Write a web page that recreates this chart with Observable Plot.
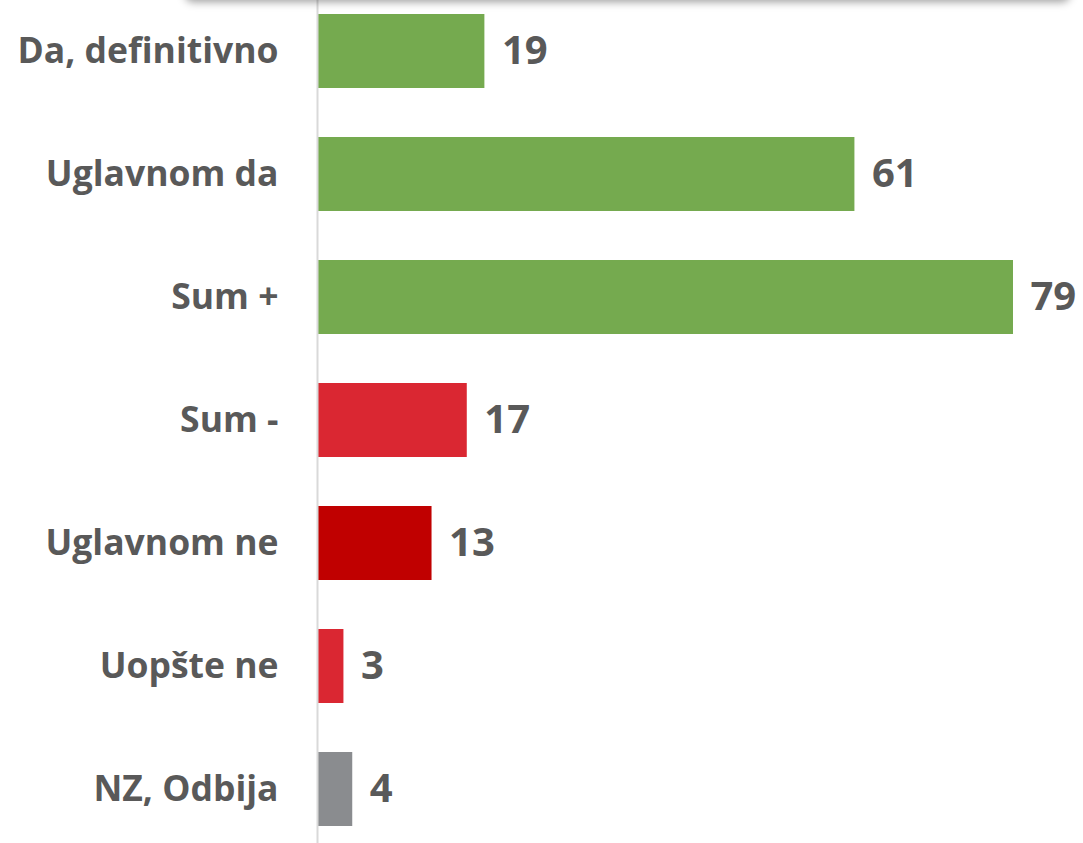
<!DOCTYPE html>
<html>
<head>
<meta charset="utf-8">
<script src="https://cdn.jsdelivr.net/npm/d3@7"></script>
<script src="https://cdn.jsdelivr.net/npm/@observablehq/plot@0.6"></script>
<style>
  html, body { margin: 0; padding: 0; background: #fff; overflow: hidden; }
  #wrap { position: relative; width: 1083px; height: 843px; }
  #shadow { position: absolute; top: -20px; left: 185px; width: 885px; height: 20px;
            background: #fff; border-radius: 8px; box-shadow: 0 2px 9px rgba(0,0,0,0.38); z-index: 2; }
  svg { font-family: "Open Sans", "Noto Sans", sans-serif; }
</style>
</head>
<body>
<div id="wrap"><div id="shadow"></div></div>
<script>
const categories = ["Da, definitivno", "Uglavnom da", "Sum +", "Sum -", "Uglavnom ne", "Uopšte ne", "NZ, Odbija"];
const values = [19, 61, 79, 17, 13, 3, 4];
const colors = ["#75AA4F", "#75AA4F", "#75AA4F", "#DA2732", "#C00000", "#DA2732", "#8A8C8F"];

const data = categories.map((c, i) => ({category: c, value: values[i], color: colors[i]}));

const chart = Plot.plot({
  width: 1083,
  height: 843,
  marginLeft: 317,
  marginRight: 0,
  marginTop: 0,
  marginBottom: 0,
  x: {domain: [0, 79], range: [317, 1013], axis: null},
  y: {domain: categories, range: [-11.6, 850.6], paddingInner: 0.4, paddingOuter: 0.2, label: null},
  marks: [
    Plot.barX(data, {y: "category", x: "value", fill: "color"}),
    Plot.ruleX([0], {stroke: "#d9d9d9", strokeWidth: 2}),
    Plot.text(data, {y: "category", x: "value", text: d => String(d.value), dx: 17,
      textAnchor: "start", fill: "#595959", fontSize: 40, fontWeight: "bold"}),
    Plot.axisY({tickSize: 0, tickPadding: 39, fontSize: 35.5, fontWeight: "bold", color: "#595959", label: null})
  ]
});
document.getElementById("wrap").appendChild(chart);
</script>
</body>
</html>
